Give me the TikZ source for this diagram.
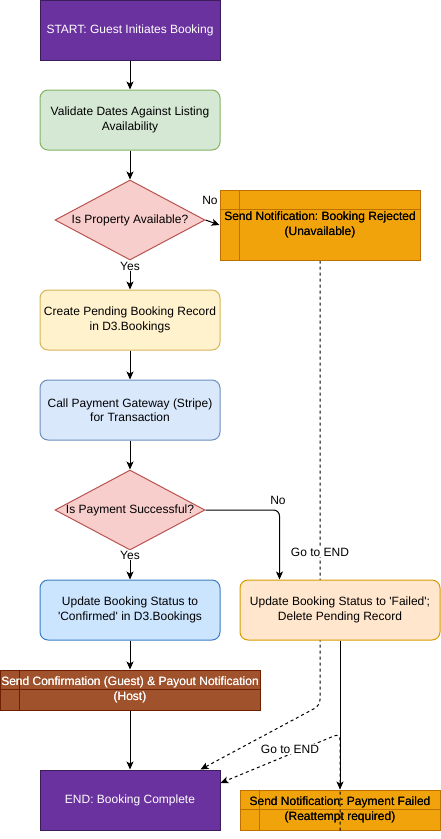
\documentclass[tikz,border=0pt]{standalone}
\usepackage{fontspec}
\setmainfont{Liberation Sans}[Ligatures=TeXOff]
\usetikzlibrary{shapes.geometric,arrows.meta,calc}
\pgfdeclarelayer{bg}
\pgfsetlayers{bg,main}
\definecolor{purpF}{HTML}{6A329F}
\definecolor{purpS}{HTML}{3C1D5C}
\definecolor{greenF}{HTML}{D5E8D4}
\definecolor{greenS}{HTML}{82B366}
\definecolor{redF}{HTML}{F8CECC}
\definecolor{redS}{HTML}{B85450}
\definecolor{yelF}{HTML}{FFF2CC}
\definecolor{yelS}{HTML}{D6B656}
\definecolor{bluF}{HTML}{DAE8FC}
\definecolor{bluS}{HTML}{6C8EBF}
\definecolor{blu2F}{HTML}{CCE5FF}
\definecolor{blu2S}{HTML}{3C7DC4}
\definecolor{oraF}{HTML}{FFE6CC}
\definecolor{oraS}{HTML}{D79B00}
\definecolor{ambF}{HTML}{F0A30A}
\definecolor{ambS}{HTML}{BD7000}
\definecolor{brnF}{HTML}{A0522D}
\definecolor{brnS}{HTML}{6D1F00}
\begin{document}
\frenchspacing
\begin{tikzpicture}[x=1pt,y=-1pt,
  every node/.style={font=\fontsize{12}{14.4}\selectfont, align=center, inner sep=0pt, line width=1pt},
  term/.style={draw=purpS, fill=purpF, text=white, minimum width=180pt, minimum height=60pt},
  proc/.style={draw, rounded corners=8pt, minimum width=180pt, minimum height=60pt},
  dec/.style={diamond, draw=redS, fill=redF, minimum width=150pt, minimum height=80pt, aspect=1.875},
  store/.style={draw, minimum width=200pt},
  arr/.style={-{Stealth[length=8pt,width=7pt,inset=2pt]}, line width=1pt},
  dsh/.style={arr, dash pattern=on 3pt off 3pt},
  lbl/.style={fill=white, inner sep=1pt}
]
\useasboundingbox (0,0) rectangle (441,839);

\node[term] (start) at (130,30) {START: Guest Initiates Booking};
\node[proc, draw=greenS, fill=greenF] (val) at (130,120) {Validate Dates Against Listing\\Availability};
\node[dec] (d1) at (130,220) {Is Property Available?};
\node[store, draw=ambS, fill=ambF, minimum height=70pt] (rej) at (320,225) {Send Notification: Booking Rejected\\(Unavailable)};
\node[proc, draw=yelS, fill=yelF] (pend) at (130,320) {Create Pending Booking Record\\in D3.Bookings};
\node[proc, draw=bluS, fill=bluF] (pay) at (130,410) {Call Payment Gateway (Stripe)\\for Transaction};
\node[dec] (d2) at (130,510) {Is Payment Successful?};
\node[proc, draw=blu2S, fill=blu2F] (conf) at (130,610) {Update Booking Status to\\'Confirmed' in D3.Bookings};
\node[proc, draw=oraS, fill=oraF, minimum width=200pt] (fail) at (340,610) {Update Booking Status to 'Failed';\\Delete Pending Record};
\node[store, draw=brnS, fill=brnF, minimum width=260pt, minimum height=40pt, text=white] (notif) at (130,690) {Send Confirmation (Guest) \& Payout Notification\\(Host)};
\node[term] (end) at (130,800) {END: Booking Complete};
\node[store, draw=ambS, fill=ambF, minimum height=40pt] (pfail) at (340,810) {Send Notification: Payment Failed\\(Reattempt required)};

% internal storage lines
\draw[ambS, line width=1pt] ($(rej.north west)+(20,0)$) -- ($(rej.south west)+(20,0)$)
  ($(rej.north west)+(0,20)$) -- ($(rej.north east)+(0,20)$);
\draw[brnS, line width=1pt] ($(notif.north west)+(20,0)$) -- ($(notif.south west)+(20,0)$)
  ($(notif.north west)+(0,20)$) -- ($(notif.north east)+(0,20)$);
\draw[ambS, line width=1pt] ($(pfail.north west)+(20,0)$) -- ($(pfail.south west)+(20,0)$)
  ($(pfail.north west)+(0,20)$) -- ($(pfail.north east)+(0,20)$);
% texts over the internal lines
\node at (rej.center) {Send Notification: Booking Rejected\\(Unavailable)};
\node[text=white] at (notif.center) {Send Confirmation (Guest) \& Payout Notification\\(Host)};
\node at (pfail.center) {Send Notification: Payment Failed\\(Reattempt required)};

% connectors
\draw[arr] (start) -- (val);
\draw[arr] (val) -- (d1);
\draw[arr] (d1.east) -- (rej.west);
\node (no1) at (210,200) {No};
\draw[arr] (d1.south) -- (pend.north);
\node[lbl] (yes1) at (130,266) {Yes};
\draw[arr] (pend) -- (pay);
\draw[arr] (pay) -- (d2);
\draw[arr, rounded corners=6pt] (d2.east) -| ($(fail.north west)+(40,0)$);
\node (no2) at (278,500) {No};
\draw[arr] (d2.south) -- (conf.north);
\node[lbl] (yes2) at (130,555) {Yes};
\draw[arr] (conf) -- (notif);
\draw[arr] (notif) -- (end);
\draw[arr] (fail.south) -- (pfail.north);

\begin{pgfonlayer}{bg}
\draw[dsh, rounded corners=6pt] (rej.south) -- ($(rej.south)+(0,445)$) -- ($(end.north east)+(-20,0)$);
\end{pgfonlayer}
\node[lbl] (go1) at (320,552) {Go to END};
\draw[dsh, rounded corners=6pt] (pfail.south) -- ($(pfail.south)+(0,-97)$) -- ($(end.east)+(0,-17)$);
\node[lbl] (go2) at (290,749) {Go to END};
\end{tikzpicture}
\end{document}
